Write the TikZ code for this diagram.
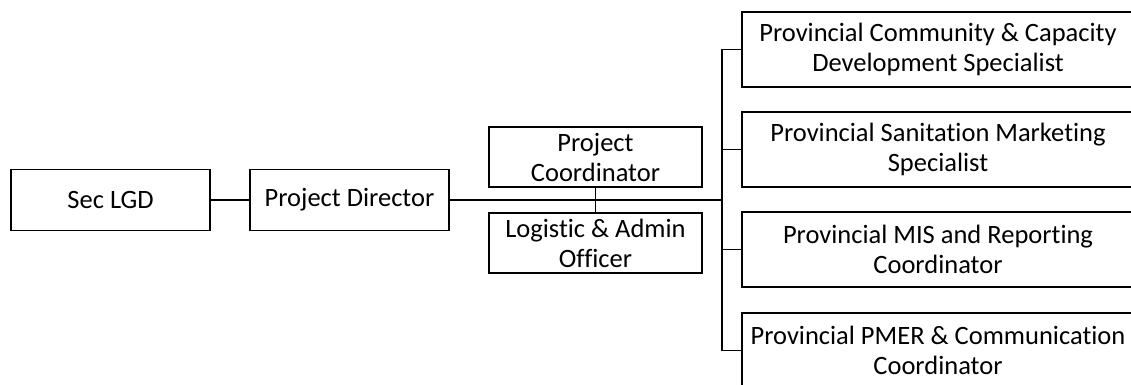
\documentclass[tikz,border=0pt]{standalone}
\usepackage{fontspec}
\setmainfont{Carlito}[Ligatures={NoCommon}]
\begin{document}
\begin{tikzpicture}[x=1pt,y=-1pt,
  box/.style={draw,line width=1.8pt,inner sep=0pt,align=center,
    font=\fontsize{26.5}{30}\selectfont},
  link/.style={line width=1.8pt}]
\useasboundingbox (0,0) rectangle (1131,385);
\clip (0,0) rectangle (1131,385);
% head of the chain
\node[box,minimum width=199pt,minimum height=61pt] (sec) at (110.5,200) {Sec LGD};
\node[box,minimum width=199pt,minimum height=61pt] (pd) at (349.5,200) {Project Director};
% support staff
\node[box,minimum width=213pt,minimum height=60pt] (pc) at (595.5,157) {Project\\Coordinator};
\node[box,minimum width=213pt,minimum height=60pt] (la) at (595.5,243) {Logistic \& Admin\\Officer};
% provincial staff
\node[box,minimum width=392pt,minimum height=75pt] (r1) at (938,49.5) {Provincial Community \& Capacity\\Development Specialist};
\node[box,minimum width=392pt,minimum height=75pt] (r2) at (938,149.5) {Provincial Sanitation Marketing\\Specialist};
\node[box,minimum width=392pt,minimum height=75pt] (r3) at (938,249.5) {Provincial MIS and Reporting\\Coordinator};
\node[box,minimum width=392pt,minimum height=75pt] (r4) at (938,350.5) {Provincial PMER \& Communication\\Coordinator};
\coordinate (bus) at (722,200);
% connectors
\draw[link] (sec.east) -- (pd.west);
\draw[link] (pd.east) -- (bus);
\draw[link] (pc.south) -- (la.north);
\draw[link] (r1.west) -- (r1.west -| bus) -- (r4.west -| bus) -- (r4.west);
\draw[link] (r2.west) -- (r2.west -| bus);
\draw[link] (r3.west) -- (r3.west -| bus);
\end{tikzpicture}
\end{document}
